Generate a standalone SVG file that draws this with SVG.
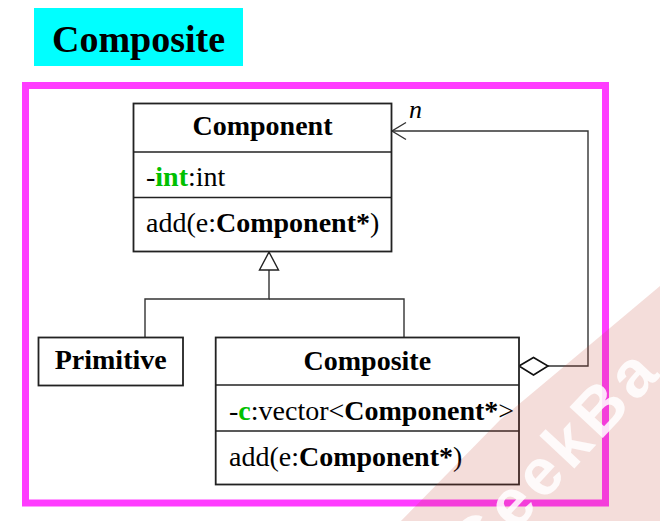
<svg xmlns="http://www.w3.org/2000/svg" width="660" height="521" viewBox="0 0 660 521">
<defs>
<style>
.box{fill:#fff;stroke:#222;stroke-width:1.8}
.div{stroke:#222;stroke-width:1.6}
.ln{fill:none;stroke:#333;stroke-width:1.4}
.t{font-family:"Liberation Serif","Times New Roman",serif;font-size:28px;fill:#000}
.b{font-weight:bold}
.g{fill:#00c000;font-weight:bold}
</style>
<clipPath id="band"><path d="M660,286 Q560,370 500,420 L398,524 L664,524 Z"/></clipPath>
</defs>
<rect width="660" height="521" fill="#fff"/>
<g id="title">
<rect x="34" y="8" width="209" height="58" fill="#00ffff"/>
<text x="52" y="52" class="t b" style="font-size:38px">Composite</text>
</g>
<rect id="frame" x="25.5" y="85.5" width="580" height="417.5" fill="none" stroke="#ff3cff" stroke-width="7"/>
<g id="connectors">
<polyline class="ln" points="269,270 269,299 145,299 145,337"/>
<polyline class="ln" points="269,299 404,299 404,337"/>
<polygon points="269,252 278.5,270 259.5,270" fill="#fff" stroke="#222" stroke-width="1.4"/>
<polyline class="ln" points="548,366 588,366 588,131 392,131"/>
<polyline class="ln" points="406,122.5 392,131 406,139.5"/>
<polygon points="519,366 533.5,357.5 548,366 533.5,375" fill="#fff" stroke="#111" stroke-width="1.6"/>
<text x="409" y="118" font-family="Liberation Serif,serif" font-size="26" font-style="italic">n</text>
</g>
<g id="component">
<rect class="box" x="133.5" y="103.5" width="258" height="148"/>
<line class="div" x1="133.5" y1="152" x2="391.5" y2="152"/>
<line class="div" x1="133.5" y1="197.5" x2="391.5" y2="197.5"/>
<text class="t b" x="262.5" y="135" text-anchor="middle">Component</text>
<text class="t" x="146" y="186">-<tspan class="g">int</tspan>:int</text>
<text class="t" x="146" y="232">add(e:<tspan class="b">Component*</tspan>)</text>
</g>
<g id="primitive">
<rect class="box" x="38.5" y="337.5" width="144.5" height="48"/>
<text class="t b" x="110.7" y="369" text-anchor="middle">Primitive</text>
</g>
<g id="composite">
<rect class="box" x="215.7" y="337.5" width="303.3" height="147"/>
<line class="div" x1="215.7" y1="385" x2="519" y2="385"/>
<line class="div" x1="215.7" y1="431" x2="519" y2="431"/>
<text class="t b" x="367.3" y="370" text-anchor="middle">Composite</text>
<text class="t" x="229" y="420">-<tspan class="g">c</tspan>:vector&lt;<tspan class="b">Component*</tspan>&gt;</text>
<text class="t" x="229" y="466">add(e:<tspan class="b">Component*</tspan>)</text>
</g>
<g id="watermark" clip-path="url(#band)">
<rect width="660" height="521" fill="#c04030" fill-opacity="0.18"/>
<text transform="translate(476,574) rotate(-47)" x="0" y="0" font-family="Liberation Sans,Arial,sans-serif" font-size="66" font-weight="bold" letter-spacing="5" fill="#fff" fill-opacity="0.85">GeekBa</text>
</g>
</svg>
